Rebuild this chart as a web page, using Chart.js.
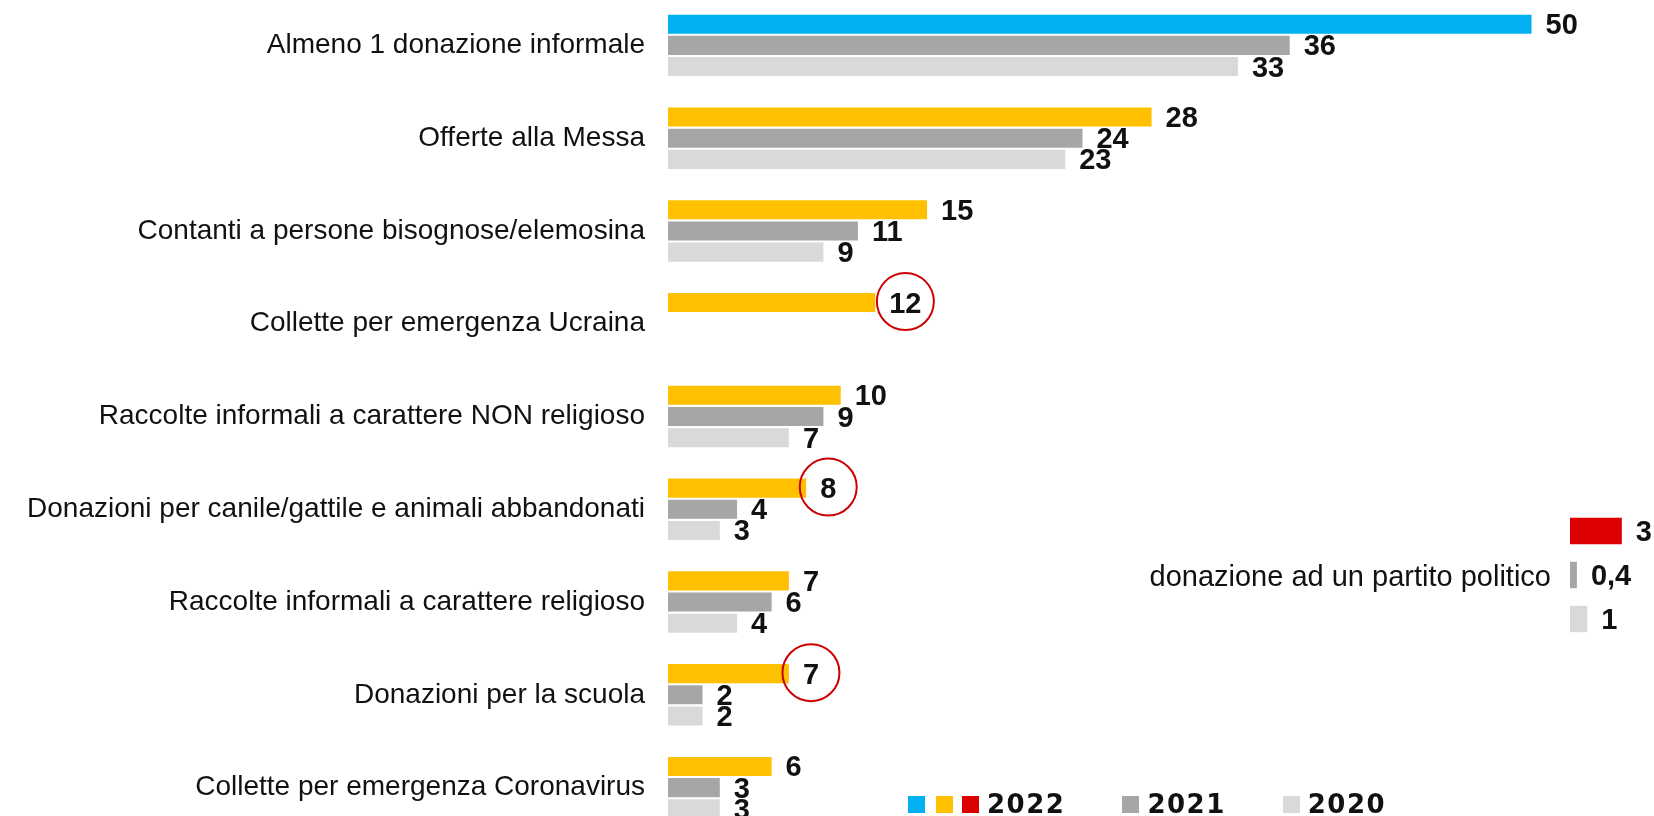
<!doctype html>
<html lang="it">
<head>
<meta charset="utf-8" />
<title>Donazioni informali</title>
<script src="https://cdn.jsdelivr.net/npm/chart.js"></script>
<style>
  * { box-sizing: border-box; }
  html, body { margin: 0; padding: 0; background: #fff; overflow: hidden; }
  body { width: 1654px; height: 816px; position: relative; font-family: "Liberation Sans", Arial, sans-serif; color: #111; }
  #mainWrap { position: absolute; left: 0; top: -1px; width: 1654px; height: 835px; }
  #insetWrap { position: absolute; left: 1570px; top: 509px; width: 84px; height: 132px; }
  .inset-label { position: absolute; right: 103px; top: 559px; font-size: 29px; line-height: 34px; white-space: nowrap; }
  .legend { position: absolute; left: 908px; top: 790px; height: 28px; display: flex; align-items: center; }
  .sq { width: 17px; height: 17px; display: inline-block; }
  .yr { font-family: "DejaVu Sans", sans-serif; font-weight: bold; font-size: 26px; letter-spacing: 1.5px; line-height: 28px; margin-left: 8px; }
</style>
</head>
<body>
<div id="mainWrap"><canvas id="main"></canvas></div>
<div class="inset-label" id="insetLabel"></div>
<div id="insetWrap"><canvas id="inset"></canvas></div>
<div class="legend" id="legend"></div>

<script>
// categorie e valori (%)
const categories = [
  "Almeno 1 donazione informale",
  "Offerte alla Messa",
  "Contanti a persone bisognose/elemosina",
  "Collette per emergenza Ucraina",
  "Raccolte informali a carattere NON religioso",
  "Donazioni per canile/gattile e animali abbandonati",
  "Raccolte informali a carattere religioso",
  "Donazioni per la scuola",
  "Collette per emergenza Coronavirus"
];
const values2022 = [50, 28, 15, 12, 10, 8, 7, 7, 6];
const values2021 = [36, 24, 11, null, 9, 4, 6, 2, 3];
const values2020 = [33, 23, 9, null, 7, 3, 4, 2, 3];
// categorie 2022 cerchiate in rosso
const highlighted = [3, 5, 7];

const insetTitle = "donazione ad un partito politico";
const insetYears = ["2022", "2021", "2020"];
const insetValues = [3, 0.4, 1];

const years = ["2022", "2021", "2020"];

const BLUE = "#00B0F0", YELLOW = "#FFC000", RED = "#DD0000", GRAY = "#A6A6A6", LIGHT = "#D9D9D9";
const PX_PER_UNIT = 17.27;
const LABEL_FONT = "bold 29px 'Liberation Sans', Arial, sans-serif";

function fmt(v) {
  return String(v).replace(".", ",");
}

const valueLabels = {
  id: "valueLabels",
  afterDatasetsDraw(chart, args, opts) {
    const ctx = chart.ctx;
    ctx.save();
    ctx.font = LABEL_FONT;
    ctx.fillStyle = "#111";
    ctx.textAlign = "left";
    ctx.textBaseline = "alphabetic";
    chart.data.datasets.forEach((ds, di) => {
      const meta = chart.getDatasetMeta(di);
      meta.data.forEach((el, i) => {
        const v = ds.data[i];
        if (v === null || v === undefined) return;
        const text = fmt(v);
        const x = el.x + 14;
        ctx.fillText(text, x, el.y + 10);
        if (opts.circles && di === 0 && opts.circles.includes(i)) {
          const w = ctx.measureText(text).width;
          ctx.beginPath();
          ctx.strokeStyle = "#CC0000";
          ctx.lineWidth = 2;
          ctx.arc(x + w / 2, el.y - 1, 28.5, 0, Math.PI * 2);
          ctx.stroke();
        }
      });
    });
    ctx.restore();
  }
};

new Chart(document.getElementById("main"), {
  type: "bar",
  data: {
    labels: categories,
    datasets: [
      { label: years[0], data: values2022, backgroundColor: values2022.map((v, i) => i === 0 ? BLUE : YELLOW) },
      { label: years[1], data: values2021, backgroundColor: GRAY },
      { label: years[2], data: values2020, backgroundColor: LIGHT }
    ]
  },
  options: {
    indexAxis: "y",
    responsive: true,
    maintainAspectRatio: false,
    animation: false,
    layout: { padding: { left: 0, right: 1654 - 668 - 55 * PX_PER_UNIT, top: 0, bottom: 0 } },
    categoryPercentage: 0.685,
    barPercentage: 0.9,
    scales: {
      x: { display: false, min: 0, max: 55 },
      y: {
        grid: { display: false, drawTicks: false },
        border: { display: false },
        ticks: { color: "#111", padding: 23, font: { family: "'Liberation Sans', Arial, sans-serif", size: 28 } },
        afterFit(scale) {
          scale.width = 668;
          scale.paddingTop = 0;
          scale.paddingBottom = 0;
        }
      }
    },
    plugins: {
      legend: { display: false },
      tooltip: { enabled: false },
      valueLabels: { circles: highlighted }
    }
  },
  plugins: [valueLabels]
});

new Chart(document.getElementById("inset"), {
  type: "bar",
  data: {
    labels: insetYears,
    datasets: [{ data: insetValues, backgroundColor: [RED, GRAY, LIGHT] }]
  },
  options: {
    indexAxis: "y",
    responsive: true,
    maintainAspectRatio: false,
    animation: false,
    layout: { padding: 0 },
    categoryPercentage: 1,
    barPercentage: 0.6,
    scales: {
      x: { display: false, min: 0, max: 84 / PX_PER_UNIT },
      y: { display: false }
    },
    plugins: { legend: { display: false }, tooltip: { enabled: false }, valueLabels: {} }
  },
  plugins: [valueLabels]
});

document.getElementById("insetLabel").textContent = insetTitle;

// legenda
const legendItems = [
  { colors: [BLUE, YELLOW, RED], text: years[0], gaps: [11, 9] },
  { colors: [GRAY], text: years[1], gaps: [] },
  { colors: [LIGHT], text: years[2], gaps: [] }
];
const legend = document.getElementById("legend");
legendItems.forEach((item, k) => {
  const grp = document.createElement("div");
  grp.style.display = "flex";
  grp.style.alignItems = "center";
  if (k > 0) grp.style.marginLeft = "57px";
  item.colors.forEach((c, j) => {
    const s = document.createElement("span");
    s.className = "sq";
    s.style.background = c;
    if (j > 0) s.style.marginLeft = item.gaps[j - 1] + "px";
    grp.appendChild(s);
  });
  const t = document.createElement("span");
  t.className = "yr";
  t.textContent = item.text;
  grp.appendChild(t);
  legend.appendChild(grp);
});
</script>
</body>
</html>
